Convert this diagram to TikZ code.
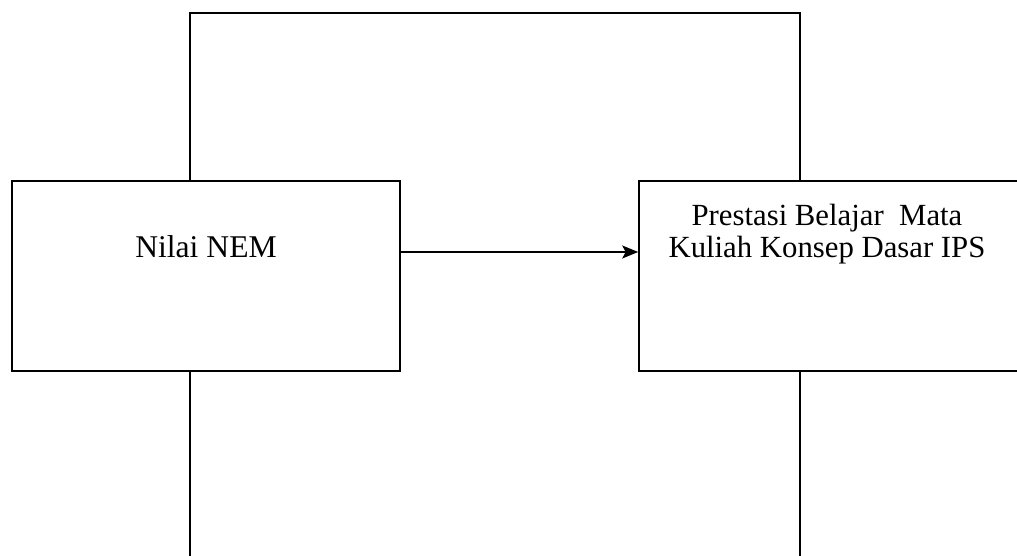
\documentclass[tikz,border=0pt]{standalone}
\usepackage{fontspec}
\setmainfont{Liberation Serif}
\usetikzlibrary{arrows.meta}
\tikzset{kotak/.style={draw,fill=white,line width=0.9pt,minimum width=7.76cm,minimum height=3.8cm,inner sep=0pt},
teks/.style={font=\fontsize{17.5}{18}\selectfont,align=center}}

\begin{document}
\begin{tikzpicture}
\useasboundingbox (0,0) rectangle (20.34,11.12);
\draw[line width=0.9pt] (3.8,-0.5)--(3.8,10.86)--(16,10.86)--(16,-0.5);

\node[kotak] (nembox) at (4.12,5.6){};
\node[kotak] (prestasibox) at (16.66,5.6){};
\node[teks,font=\fontsize{18}{18}\selectfont,anchor=base] (nem) at (4.12,5.96){Nilai NEM};
\node[teks] (prestasi) at (16.54,6.44){Prestasi Belajar\ \ Mata\\Kuliah Konsep Dasar IPS};

\coordinate (panah) at (0,6.08);
\draw[-{Stealth[length=0.32cm,width=0.26cm,inset=0.07cm]},line width=0.9pt] (nembox.east |- panah)--(prestasibox.west |- panah);
\end{tikzpicture}
\end{document}
